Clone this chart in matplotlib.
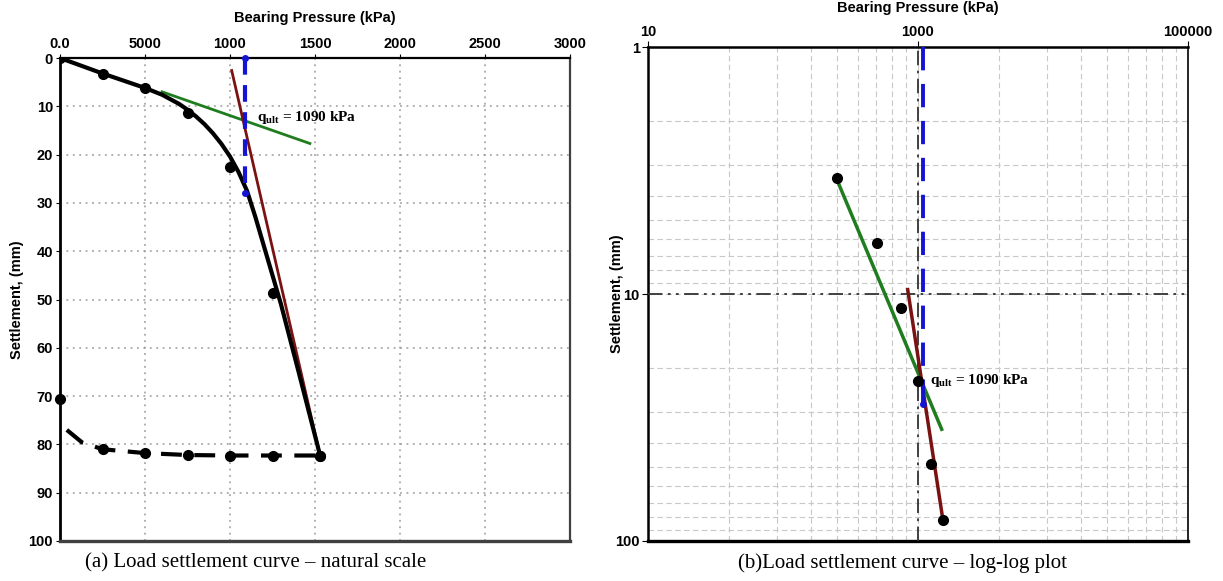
import matplotlib
matplotlib.use("Agg")
import matplotlib.pyplot as plt
from matplotlib.ticker import FixedLocator, NullFormatter

plt.rcParams['font.family'] = ['Liberation Sans', 'DejaVu Sans']
plt.rcParams['mathtext.fontset'] = 'custom'
plt.rcParams['mathtext.rm'] = 'Liberation Serif'
plt.rcParams['mathtext.bf'] = 'Liberation Serif:bold'

# ---------------- data ----------------
# measured load test points (kPa, mm)
load_p = [0, 250, 500, 750, 1000, 1250, 1530]
load_s = [0, 3.4, 6.2, 11.4, 22.6, 48.6, 82.3]
# fitted loading curve
curve_p = [0, 250, 500, 600, 700, 750, 800, 850, 900, 950, 1000, 1050, 1100,
           1150, 1200, 1250, 1300, 1400, 1530]
curve_s = [0, 3.2, 6.2, 7.6, 9.5, 10.7, 12.1, 13.7, 15.6, 17.8, 20.4, 23.6, 27.5,
           33.0, 39.0, 45.0, 51.0, 64.5, 82.3]
# unloading branch
unload_p = [40, 130, 250, 500, 750, 1000, 1250, 1530]
unload_s = [77.0, 79.6, 81.0, 81.8, 82.2, 82.3, 82.3, 82.3]
unload_pt_p = [250, 500, 750, 1000, 1250, 1530]
unload_pt_s = [81.0, 81.8, 82.2, 82.3, 82.3, 82.3]
rebound_p = [0]
rebound_s = [70.5]
# tangent lines (natural scale)
tan1_p = [600, 1470]
tan1_s = [7.0, 17.7]
tan2_p = [1010, 1530]
tan2_s = [2.6, 82.3]
q_ult = 1090
q_ult_s = [0, 28]
# log-log tangent lines
log_tan1_p = [254, 1498]
log_tan1_s = [3.5, 35.3]
log_tan2_p = [839, 1530]
log_tan2_s = [9.6, 82.3]
log_q_ult_s = [1, 28]

left_xticks = [0, 500, 1000, 1500, 2000, 2500, 3000]
left_xlabels = ['0.0', '5000', '1000', '1500', '2000', '2500', '3000']
left_yticks = [0, 10, 20, 30, 40, 50, 60, 70, 80, 90, 100]
right_xmajor = [10, 1000, 100000]
right_xlabels = ['10', '1000', '100000']
right_ymajor = [1, 10, 100]
right_ylabels = ['1', '10', '100']

GREEN = '#1f7d1f'
RED = '#7b1212'
BLUE = '#1414d2'

fig = plt.figure(figsize=(12.23, 5.81), dpi=100)

# ---------------- left panel ----------------
ax = fig.add_axes([60/1223, 1-541/581, 510/1223, (541-58)/581])
ax.set_xlim(0, 3000)
ax.set_ylim(100, 0)
ax.xaxis.tick_top()
ax.xaxis.set_label_position('top')
ax.set_xticks(left_xticks)
ax.set_xticklabels(left_xlabels)
ax.set_yticks(left_yticks)
for lab in ax.get_xticklabels() + ax.get_yticklabels():
    lab.set_fontweight('bold')
    lab.set_fontsize(10.5)
ax.tick_params(axis='both', length=3, pad=2)
ax.grid(True, linestyle=(0, (1.2, 3)), color='#9a9a9a', lw=1.1)
ax.set_axisbelow(True)
ax.set_xlabel('Bearing Pressure (kPa)', fontweight='bold', fontsize=10.5, labelpad=11)
ax.set_ylabel('Settlement, (mm)', fontweight='bold', fontsize=10.5)
ax.yaxis.set_label_coords(-0.07, 0.5)
ax.spines['left'].set_linewidth(2.0)
ax.spines['top'].set_linewidth(1.6)
ax.spines['bottom'].set_linewidth(2.4)
ax.spines['bottom'].set_color('#404040')
ax.spines['right'].set_linewidth(1.6)
ax.spines['right'].set_color('#404040')

ax.plot(curve_p, curve_s, color='black', lw=3, solid_capstyle='round',
        solid_joinstyle='round', zorder=4)
ax.plot(load_p, load_s, 'o', color='black', ms=7, zorder=5)
ax.plot(unload_p, unload_s, color='black', lw=3, dashes=(5, 3), zorder=4)
ax.plot(unload_pt_p, unload_pt_s, 'o', color='black', ms=7, zorder=5)
ax.plot(rebound_p, rebound_s, 'o', color='black', ms=7, zorder=5, clip_on=False)
ax.plot(tan1_p, tan1_s, color=GREEN, lw=2, zorder=3)
ax.plot(tan2_p, tan2_s, color=RED, lw=2, zorder=3)
ax.plot([q_ult, q_ult], q_ult_s, color=BLUE, lw=3, dashes=(4, 2.5), zorder=6)
ax.plot([q_ult, q_ult], q_ult_s, 'o', color=BLUE, ms=4, zorder=6, clip_on=False)
ax.text(1160, 12.4, r'q$_{\mathbf{ult}}$ = 1090 kPa', fontfamily='Liberation Serif',
        fontweight='bold', fontsize=11, ha='left', va='center', zorder=7)

fig.text(256/1223, 1-563/581, '(a) Load settlement curve \u2013 natural scale',
         fontfamily='Liberation Serif', fontsize=15, ha='center', va='center')

# ---------------- right panel ----------------
bx = fig.add_axes([648/1223, 1-541/581, 540/1223, (541-47)/581])
bx.set_xscale('log')
bx.set_yscale('log')
bx.set_xlim(10, 100000)
bx.set_ylim(100, 1)
bx.xaxis.tick_top()
bx.xaxis.set_label_position('top')
bx.xaxis.set_major_locator(FixedLocator(right_xmajor))
minor_x = [m * k * k for m in right_xmajor[:-1] for k in range(2, 10)]
bx.xaxis.set_minor_locator(FixedLocator(minor_x))
bx.xaxis.set_minor_formatter(NullFormatter())
bx.set_xticks(right_xmajor)
bx.set_xticklabels(right_xlabels)
bx.yaxis.set_major_locator(FixedLocator(right_ymajor))
minor_y = [m * k for m in right_ymajor[:-1] for k in range(2, 10)]
bx.yaxis.set_minor_locator(FixedLocator(minor_y))
bx.yaxis.set_minor_formatter(NullFormatter())
bx.set_yticks(right_ymajor)
bx.set_yticklabels(right_ylabels)
for lab in bx.get_xticklabels() + bx.get_yticklabels():
    lab.set_fontweight('bold')
    lab.set_fontsize(10.5)
bx.tick_params(axis='both', which='major', length=4, pad=2)
bx.tick_params(axis='both', which='minor', length=0)
bx.grid(True, which='both', linestyle=(0, (5, 3)), color='#c8c8c8', lw=0.8)
bx.set_axisbelow(True)
bx.set_xlabel('Bearing Pressure (kPa)', fontweight='bold', fontsize=10.5, labelpad=9)
bx.set_ylabel('Settlement, (mm)', fontweight='bold', fontsize=10.5)
bx.yaxis.set_label_coords(-0.044, 0.5)
bx.spines['left'].set_linewidth(1.8)
bx.spines['top'].set_linewidth(1.8)
bx.spines['bottom'].set_linewidth(2.4)
bx.spines['right'].set_linewidth(1.2)

bx.axhline(10, color='#333333', lw=1.3, dashes=(8, 3, 1.5, 3, 1.5, 3), zorder=3)
bx.axvline(1000, color='#333333', lw=1.3, dashes=(8, 3, 1.5, 3), zorder=3)
bx.plot(log_tan1_p, log_tan1_s, color=GREEN, lw=2.5, zorder=4)
bx.plot(log_tan2_p, log_tan2_s, color=RED, lw=2.5, zorder=4)
bx.plot([q_ult, q_ult], log_q_ult_s, color=BLUE, lw=2.8, dashes=(6, 3.5), zorder=5)
bx.plot([q_ult], [log_q_ult_s[1]], 'o', color=BLUE, ms=4, zorder=5)
bx.plot(load_p[1:], load_s[1:], 'o', color='black', ms=7, zorder=6)
bx.text(1220, 22.3, r'q$_{\mathbf{ult}}$ = 1090 kPa', fontfamily='Liberation Serif',
        fontweight='bold', fontsize=11, ha='left', va='center', zorder=7)

fig.text(903/1223, 1-563/581, '(b)Load settlement curve \u2013 log-log plot',
         fontfamily='Liberation Serif', fontsize=15, ha='center', va='center')

fig.savefig('out.png', dpi=100)
